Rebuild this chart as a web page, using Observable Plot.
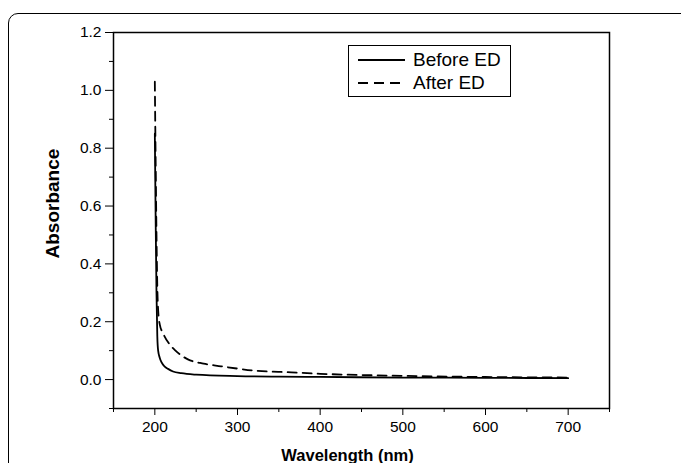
<!DOCTYPE html>
<html>
<head>
<meta charset="utf-8">
<script src="https://cdn.jsdelivr.net/npm/d3@7"></script>
<script src="https://cdn.jsdelivr.net/npm/@observablehq/plot@0.6"></script>
<style>
  body { margin: 0; background: #fff; }
  #wrap { position: relative; width: 681px; height: 463px; overflow: hidden; font-family: "Liberation Sans", Arial, sans-serif; }
  #outer { position: absolute; left: 8px; top: 13px; width: 720px; height: 520px; border: 1.5px solid #000; border-top-left-radius: 10px; box-sizing: border-box; }
  #chart { position: absolute; left: 0; top: 0; }
  #legend { position: absolute; left: 348px; top: 45px; width: 163px; height: 52px; border: 1px solid #000; box-sizing: border-box; background: #fff; font-size: 19px; }
  .row { position: absolute; left: 9px; height: 22px; display: flex; align-items: center; }
  .row span { margin-left: 8px; }
</style>
</head>
<body>
<div id="wrap">
  <div id="outer"></div>
  <div id="chart"></div>
  <div id="legend">
    <div class="row" style="top:3px"><svg width="47" height="10"><line x1="0" y1="5" x2="47" y2="5" stroke="#000" stroke-width="1.8"/></svg><span>Before ED</span></div>
    <div class="row" style="top:26px"><svg width="47" height="10"><line x1="0" y1="5" x2="47" y2="5" stroke="#000" stroke-width="1.8" stroke-dasharray="10,6"/></svg><span>After ED</span></div>
  </div>
</div>
<script>
// Series: Before ED
const beforeWavelength = [200, 201, 202, 203, 204, 206, 208, 212, 216, 222, 232, 250, 300, 350, 400, 500, 600, 700];
const beforeAbs        = [0.85, 0.55, 0.30, 0.15, 0.10, 0.075, 0.06, 0.045, 0.037, 0.028, 0.022, 0.017, 0.012, 0.010, 0.009, 0.007, 0.006, 0.005];
// Series: After ED
const afterWavelength = [200, 201, 202, 203, 204, 206, 210, 217, 225, 240, 259, 280, 300, 320, 365, 400, 480, 600, 700];
const afterAbs        = [1.03, 0.75, 0.50, 0.32, 0.24, 0.19, 0.16, 0.125, 0.10, 0.07, 0.055, 0.046, 0.038, 0.031, 0.025, 0.020, 0.014, 0.009, 0.007];
// Ticks
const xMajorTicks = [200, 300, 400, 500, 600, 700];
const xMinorTicks = [150, 250, 350, 450, 550, 650, 750];
const yMajorTicks = [0, 0.2, 0.4, 0.6, 0.8, 1.0, 1.2];
const yMinorTicks = [-0.1, 0.1, 0.3, 0.5, 0.7, 0.9, 1.1];
const xLabel = "Wavelength (nm)";
const yLabel = "Absorbance";

const before = beforeWavelength.map((w, i) => ({w, a: beforeAbs[i]}));
const after = afterWavelength.map((w, i) => ({w, a: afterAbs[i]}));

const chart = Plot.plot({
  width: 681,
  height: 463,
  marginLeft: 113,
  marginRight: 72,
  marginTop: 32,
  marginBottom: 55,
  style: {fontFamily: "'Liberation Sans', Arial, sans-serif", fontSize: "15.5px", color: "#000", background: "transparent", overflow: "visible"},
  x: {domain: [150, 750]},
  y: {domain: [-0.1, 1.2]},
  marks: [
    Plot.axisX({ticks: xMinorTicks, tickSize: 4, tickFormat: () => "", label: null}),
    Plot.axisX({ticks: xMajorTicks, tickSize: 7, tickPadding: 5, tickFormat: d => String(d), label: null}),
    Plot.axisY({ticks: yMinorTicks, tickSize: 4, tickFormat: () => "", label: null}),
    Plot.axisY({ticks: yMajorTicks, tickSize: 8, tickPadding: 4, tickFormat: d3.format(".1f"), label: null}),
    Plot.frame({stroke: "#000", strokeWidth: 1.5}),
    Plot.line(before, {x: "w", y: "a", curve: "monotone-x", stroke: "#000", strokeWidth: 1.8}),
    Plot.line(after, {x: "w", y: "a", curve: "monotone-x", stroke: "#000", strokeWidth: 1.8, strokeDasharray: "9,6"}),
    Plot.text([xLabel], {frameAnchor: "bottom", dx: -14, dy: 47, fontWeight: "bold", fontSize: 16.5, lineAnchor: "middle"}),
    Plot.text([yLabel], {frameAnchor: "left", rotate: -90, dx: -61, dy: 38, fontWeight: "bold", fontSize: 19})
  ]
});
document.getElementById("chart").appendChild(chart);
</script>
</body>
</html>
